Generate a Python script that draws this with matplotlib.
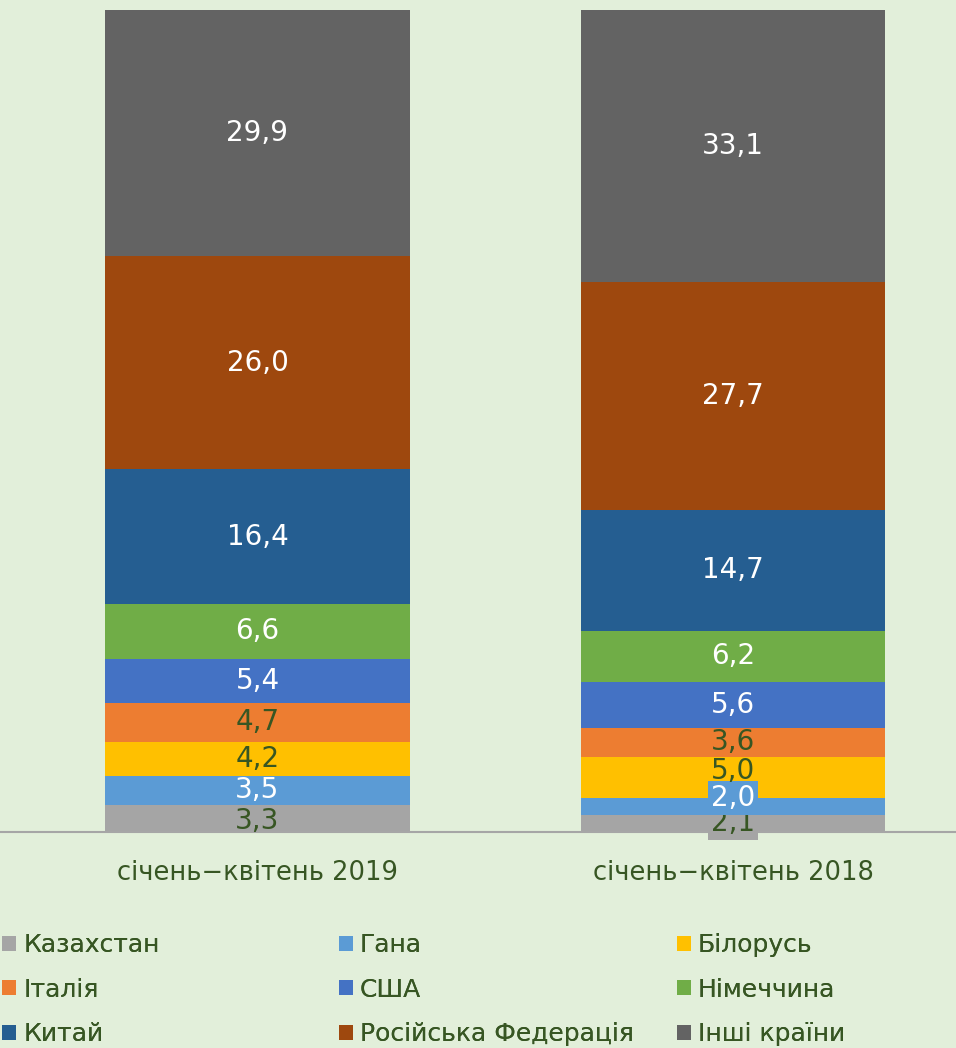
import matplotlib
matplotlib.use("Agg")
import matplotlib.pyplot as plt
import numpy as np

categories = ["січень−квітень 2019", "січень−квітень 2018"]
series_names = ["Казахстан", "Гана", "Білорусь", "Італія", "США", "Німеччина",
                "Китай", "Російська Федерація", "Інші країни"]
values_2019 = [3.3, 3.5, 4.2, 4.7, 5.4, 6.6, 16.4, 26.0, 29.9]
values_2018 = [2.1, 2.0, 5.0, 3.6, 5.6, 6.2, 14.7, 27.7, 33.1]
colors = ["#A5A5A5", "#5B9BD5", "#FFC000", "#ED7D31", "#4472C4", "#70AD47",
          "#255E91", "#9E480E", "#636363"]

BG = "#E2EFDA"
TXT = "#375623"
dark_label = {(0, 0), (0, 2), (0, 3), (1, 0), (1, 2), (1, 3)}
boxed = {(1, 0): "#A5A5A5", (1, 1): "#5B9BD5"}
yoff = {(1, 1): 6, (1, 2): 5, (0, 0): -2}

fig = plt.figure(figsize=(9.56, 10.48), dpi=100, facecolor=BG)
ax = fig.add_axes([0, (1048 - 832) / 1048, 1, (832 - 10) / 1048])
ax.set_facecolor(BG)

data = np.array([values_2019, values_2018])
x = np.arange(len(categories))
bottom = np.zeros(len(categories))
handles = []
for i, name in enumerate(series_names):
    vals = data[:, i]
    b = ax.bar(x, vals, bottom=bottom, width=0.641, color=colors[i], label=name)
    handles.append(b)
    for j in range(len(categories)):
        c = TXT if (j, i) in dark_label else "white"
        kw = {}
        if (j, i) in boxed:
            kw["bbox"] = dict(boxstyle="square,pad=0.1", fc=boxed[(j, i)], ec="none")
        ax.annotate(f"{vals[j]:.1f}".replace(".", ","),
                    (x[j], bottom[j] + vals[j] / 2),
                    xytext=(0, yoff.get((j, i), 0)), textcoords="offset points",
                    ha="center", va="center", fontsize=20, color=c, **kw)
    bottom += vals

ax.set_ylim(0, 100)
ax.set_xlim(-0.5415, 1.469)
ax.set_yticks([])
ax.set_xticks(x)
ax.set_xticklabels(categories, fontsize=18.5, color=TXT)
ax.tick_params(axis="x", length=0, pad=20)
for s in ["top", "right", "left"]:
    ax.spines[s].set_visible(False)
ax.spines["bottom"].set_color("#A6A6A6")
ax.spines["bottom"].set_linewidth(1.5)

# legend: three columns, row-major order
col_x = [2 / 956, 339 / 956, 677 / 956]
for c in range(3):
    idx = [c, c + 3, c + 6]
    leg = fig.legend([handles[k] for k in idx], [series_names[k] for k in idx],
                     loc="upper left", bbox_to_anchor=(col_x[c], 0.1097),
                     frameon=False, borderpad=0, borderaxespad=0,
                     handlelength=0.56, handleheight=0.56, handletextpad=0.28,
                     labelspacing=0.82, prop={"size": 18})
    for t in leg.get_texts():
        t.set_color(TXT)
    fig.add_artist(leg)

fig.savefig("out.png", dpi=100, facecolor=BG)
